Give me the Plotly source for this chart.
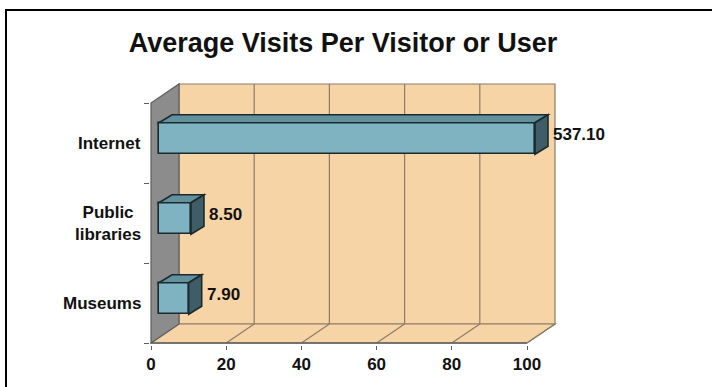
import plotly.graph_objects as go

# ---- data -------------------------------------------------------------
categories = ["Museums", "Public libraries", "Internet"]
category_labels = ["Museums", "Public<br>libraries", "Internet"]
visits = [7.90, 8.50, 537.10]
x_ticks = [0, 20, 40, 60, 80, 100]
title_text = "Average Visits Per Visitor or User"

# ---- geometry ---------------------------------------------------------
W, H = 712, 387
X_MAX = 100            # value axis maximum; longer bars are cut off here
PX_X = 3.76            # pixels per value unit
PX_Y = 80              # pixels per category band
ORIGIN_PX = (151, 343) # pixel position of value 0 on the front floor edge

MARGIN = dict(l=150, r=0, t=70, b=42)

# depth offsets of the pseudo-3D box, expressed in axis units
WALL_DX, WALL_DY = 28 / PX_X, 19 / PX_Y
BAR_DX0, BAR_DY0 = 8 / PX_X, 4.5 / PX_Y
BAR_DX, BAR_DY = 13 / PX_X, 8 / PX_Y
BAR_T = 31.5 / PX_Y

x_lo = -(ORIGIN_PX[0] - MARGIN["l"]) / PX_X
x_hi = x_lo + (W - MARGIN["l"] - MARGIN["r"]) / PX_X
y_lo = -((H - MARGIN["b"]) - ORIGIN_PX[1]) / PX_Y
y_hi = y_lo + (H - MARGIN["t"] - MARGIN["b"]) / PX_Y

plot_w = W - MARGIN["l"] - MARGIN["r"]
plot_h = H - MARGIN["t"] - MARGIN["b"]


def paper_x(px):
    return (px - MARGIN["l"]) / plot_w


def paper_y(py):
    return ((H - MARGIN["b"]) - py) / plot_h


# ---- colours ----------------------------------------------------------
WALL = "#F7D4A6"
SIDE_WALL = "#8C8C8C"
GRID = "#8A7C69"
EDGE_DARK = "#5E5E5E"
BAR_FRONT = "#80B3C1"
BAR_TOP = "#62909C"
BAR_SIDE = "#3F5D66"
BAR_EDGE = "#1B2A2F"
FONT = "Liberation Sans, Arial, sans-serif"

n = len(categories)
shapes = []


def poly(pts, fill, line_color, width=1.2, layer="below"):
    path = "M " + " L ".join(f"{x},{y}" for x, y in pts) + " Z"
    shapes.append(dict(type="path", path=path, xref="x", yref="y",
                       fillcolor=fill, line=dict(color=line_color, width=width),
                       layer=layer))


def seg(p0, p1, color, width=1.2, layer="below"):
    shapes.append(dict(type="line", xref="x", yref="y",
                       x0=p0[0], y0=p0[1], x1=p1[0], y1=p1[1],
                       line=dict(color=color, width=width), layer=layer))


# back wall, floor and left wall
poly([(WALL_DX, WALL_DY), (X_MAX + WALL_DX, WALL_DY),
      (X_MAX + WALL_DX, n + WALL_DY), (WALL_DX, n + WALL_DY)], WALL, GRID)
poly([(0, 0), (X_MAX, 0), (X_MAX + WALL_DX, WALL_DY), (WALL_DX, WALL_DY)],
     WALL, GRID)
poly([(0, 0), (WALL_DX, WALL_DY), (WALL_DX, n + WALL_DY), (0, n)],
     SIDE_WALL, EDGE_DARK)

# gridlines on the back wall and their continuation across the floor
for t in x_ticks[1:-1]:
    seg((t + WALL_DX, WALL_DY), (t + WALL_DX, n + WALL_DY), GRID)
for t in x_ticks[1:]:
    seg((t, 0), (t + WALL_DX, WALL_DY), GRID)

# front floor edge
seg((0, 0), (X_MAX, 0), EDGE_DARK, 1.4)

# ---- bars -------------------------------------------------------------
lengths = [min(v, X_MAX) for v in visits]
centers = [i + 0.5 for i in range(n)]

fig = go.Figure()
fig.add_trace(go.Bar(
    orientation="h",
    y=centers,
    x=lengths,
    base=BAR_DX0,
    width=BAR_T,
    offset=BAR_DY0 - BAR_T / 2,
    marker=dict(color=BAR_FRONT, line=dict(color=BAR_EDGE, width=1.6)),
    hoverinfo="skip",
    showlegend=False,
))

annotations = []
for c, L, v, lab in zip(centers, lengths, visits, category_labels):
    yb = c + BAR_DY0 - BAR_T / 2
    yt = yb + BAR_T
    xr = BAR_DX0 + L
    # top face
    poly([(BAR_DX0, yt), (BAR_DX0 + BAR_DX, yt + BAR_DY),
          (xr + BAR_DX, yt + BAR_DY), (xr, yt)],
         BAR_TOP, BAR_EDGE, 1.6, "above")
    # end face
    poly([(xr, yb), (xr, yt), (xr + BAR_DX, yt + BAR_DY), (xr + BAR_DX, yb + BAR_DY)],
         BAR_SIDE, BAR_EDGE, 1.6, "above")
    # value label
    annotations.append(dict(
        x=xr + BAR_DX, y=c + BAR_DY0 + BAR_DY / 2, xref="x", yref="y",
        text=f"{v:.2f}", showarrow=False, xanchor="left", yanchor="middle",
        xshift=3, font=dict(family=FONT, size=17, color="#111111", weight="bold"),
    ))
    # category label
    annotations.append(dict(
        x=0, y=c, xref="x", yref="y", text=lab, showarrow=False,
        xanchor="right", yanchor="middle", align="center", xshift=-8,
        font=dict(family=FONT, size=17, color="#111111", weight="bold"),
    ))

# outer frame: its right and bottom sides run past the edge of the page
shapes.append(dict(type="rect", xref="paper", yref="paper",
                   x0=paper_x(6), x1=paper_x(W + 40),
                   y0=paper_y(H + 40), y1=paper_y(10),
                   line=dict(color="#000000", width=2),
                   fillcolor="rgba(0,0,0,0)", layer="above"))

fig.update_layout(
    width=W, height=H,
    margin=MARGIN,
    paper_bgcolor="white",
    plot_bgcolor="white",
    title=dict(text=title_text, x=343 / W, xanchor="center", xref="container",
               y=1 - 43 / H, yref="container", yanchor="middle",
               font=dict(family=FONT, size=27, color="#111111", weight="bold")),
    xaxis=dict(range=[x_lo, x_hi], tickvals=x_ticks, ticks="outside", ticklen=4,
               tickcolor=EDGE_DARK, showgrid=False, zeroline=False, showline=False,
               tickfont=dict(family=FONT, size=17, color="#111111", weight="bold"),
               fixedrange=True),
    yaxis=dict(range=[y_lo, y_hi], tickvals=list(range(n + 1)), ticks="outside",
               ticklen=5, tickcolor=EDGE_DARK, showticklabels=False,
               showgrid=False, zeroline=False, showline=False, fixedrange=True),
    shapes=shapes,
    annotations=annotations,
    bargap=0,
)

fig.write_html("out.html", config={"displayModeBar": False})
